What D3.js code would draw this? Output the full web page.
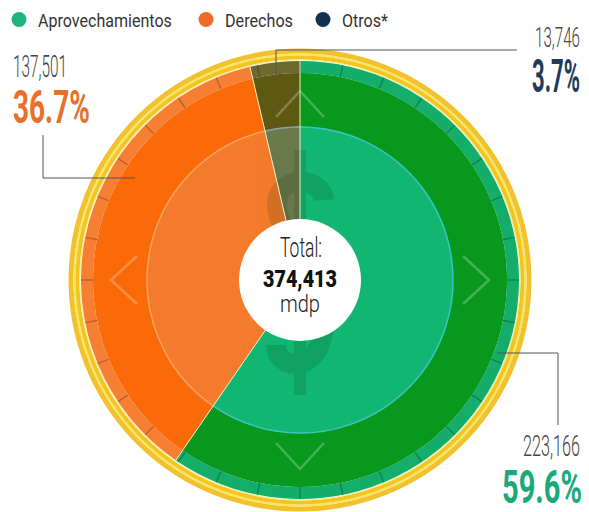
<!DOCTYPE html>
<html><head><meta charset="utf-8">
<script src="https://cdn.jsdelivr.net/npm/d3@7"></script>
<style>body{margin:0;background:#fff}svg{display:block}</style>
</head><body><svg id="c" width="589" height="512"></svg>
<script>
const categories = ["Aprovechamientos", "Derechos", "Otros*"];
const values = [223166, 137501, 13746];
const totalValue = 374413;
const outerColors = ["#07981d", "#fb6a08", "#5d5913"];
const innerColors = ["#12b673", "#f47b2c", "#6b7a4c"];
const bandColors = ["#14ae6a", "#f67f33", "#6c6a2e"];
const legendColors = ["#1fb57a", "#f26b2a", "#12304f"];
const pctColors = ["#1aaa78", "#e8702a", "#1f3a5a"];

const svg = d3.select("#c");
const cx = 300, cy = 280;
const R = {outer: 231, bandOut: 219, bandIn: 207, inner: 153, hole: 61};

const pie = d3.pie().sort(null).value(d => d);
const arcsData = pie(values);
const g = svg.append("g").attr("transform", `translate(${cx},${cy})`);

// yellow rim
g.append("circle").attr("r", 229).attr("fill", "none").attr("stroke", "#f2c12e").attr("stroke-width", 5);
g.append("circle").attr("r", 225.5).attr("fill", "none").attr("stroke", "#f9e660").attr("stroke-width", 2);
g.append("circle").attr("r", 222.5).attr("fill", "none").attr("stroke", "#f4c520").attr("stroke-width", 4);
g.append("circle").attr("r", 220).attr("fill", "none").attr("stroke", "#f3eea0").attr("stroke-width", 1.2);

const arcBand = d3.arc().innerRadius(R.bandIn).outerRadius(R.bandOut);
const arcMain = d3.arc().innerRadius(R.inner).outerRadius(R.bandIn);
const arcInner = d3.arc().innerRadius(0).outerRadius(R.inner);

g.selectAll(".band").data(arcsData).join("path").attr("d", arcBand).attr("fill", (d, i) => bandColors[i]);
g.selectAll(".main").data(arcsData).join("path").attr("d", arcMain).attr("fill", (d, i) => outerColors[i]);
g.selectAll(".inn").data(arcsData).join("path").attr("d", arcInner).attr("fill", (d, i) => innerColors[i]);

// ticks in band
const tickAngles = d3.range(32).map(k => k * 11.25);
g.selectAll(".tk").data(tickAngles).join("line")
  .attr("x1", a => R.bandIn * Math.sin(a * Math.PI / 180))
  .attr("y1", a => -R.bandIn * Math.cos(a * Math.PI / 180))
  .attr("x2", a => R.bandOut * Math.sin(a * Math.PI / 180))
  .attr("y2", a => -R.bandOut * Math.cos(a * Math.PI / 180))
  .attr("stroke", "rgba(0,0,0,0.28)").attr("stroke-width", 1.2);

// inner circle boundary
const boundaryColors = ["#3cc3c0", "#f8a060", "#8aa0a0"];
const arcEdge = d3.arc().innerRadius(R.inner).outerRadius(R.inner);
g.selectAll(".edge").data(arcsData).join("path").attr("d", arcEdge)
  .attr("fill", "none").attr("stroke", (d, i) => boundaryColors[i]).attr("stroke-width", 1.5);

// dollar sign watermark (drawn as strokes)
const clip = svg.append("defs").append("clipPath").attr("id", "ic");
clip.append("circle").attr("r", R.inner);
const dollar = g.append("g").attr("clip-path", "url(#ic)").attr("opacity", 0.14);
dollar.append("path")
  .attr("d", "M24,-80 C22,-104 -23,-106 -23,-75 C-23,-40 24,-35 24,40 C24,95 -24,92 -24,65")
  .attr("fill", "none").attr("stroke", "#0a2a00").attr("stroke-width", 20).attr("stroke-linecap", "butt");
dollar.append("path").attr("d", "M0,-130 V115")
  .attr("stroke", "#0a2a00").attr("stroke-width", 12);

// chevrons
const chev = [0, 90, 180, 270];
g.selectAll(".chev").data(chev).join("path")
  .attr("d", "M-24,-163 L0,-189 L24,-163")
  .attr("transform", a => `rotate(${a})`)
  .attr("fill", "none").attr("stroke", "rgba(255,255,255,0.25)").attr("stroke-width", 2.5);

// separators
g.selectAll(".sep").data(arcsData).join("line")
  .attr("x1", 0).attr("y1", 0)
  .attr("x2", d => R.bandOut * Math.sin(d.startAngle))
  .attr("y2", d => -R.bandOut * Math.cos(d.startAngle))
  .attr("stroke", "#f3efc0").attr("stroke-width", 1);

// center hole
g.append("circle").attr("r", R.hole).attr("fill", "#fff");

// text helper: squeezes text horizontally to a target width via scale transform
function txt(x, y, s, fs, w, col, len) {
  const t = svg.append("text").attr("x", 0).attr("y", 0).text(s)
    .attr("font-family", "Roboto, 'Liberation Sans', sans-serif")
    .attr("font-size", fs).attr("font-weight", w).attr("fill", col);
  const natural = t.node().getComputedTextLength();
  const sx = len ? len / natural : 1;
  t.attr("transform", `translate(${x},${y}) scale(${sx},1)`);
  return t;
}
const fmt = d3.format(",");
const pct = d3.format(".1%");

txt(280, 257, "Total:", 27, 300, "#222", 42);
txt(263, 287, fmt(totalValue), 24, 900, "#111", 74);
txt(280, 312, "mdp", 23, 300, "#222", 40);

// leader lines
const leaders = ["M497,353H558V425", "M43,135V178H135", "M276,77V50H517"];
svg.selectAll(".ld").data(leaders).join("path").attr("d", d => d)
  .attr("fill", "none").attr("stroke", "#555").attr("stroke-width", 1);

// value labels
const valPos = [[523, 456, 30, 57], [13, 77, 31, 54], [535, 47, 27, 45]];
const pctPos = [[502, 503, 80], [13, 123, 77], [532, 92, 48]];
values.forEach((v, i) => {
  txt(valPos[i][0], valPos[i][1], fmt(v), valPos[i][2], 300, "#444", valPos[i][3]);
  txt(pctPos[i][0], pctPos[i][1], pct(v / totalValue), 46, 700, pctColors[i], pctPos[i][2]);
});

// legend
const legX = [19, 206, 323], legLen = [134, 68, 46];
categories.forEach((c, i) => {
  svg.append("circle").attr("cx", legX[i]).attr("cy", 19.5).attr("r", 7.5).attr("fill", legendColors[i]);
  txt(legX[i] + 19, 27, c, 18, 400, "#333", legLen[i]);
});
</script></body></html>
